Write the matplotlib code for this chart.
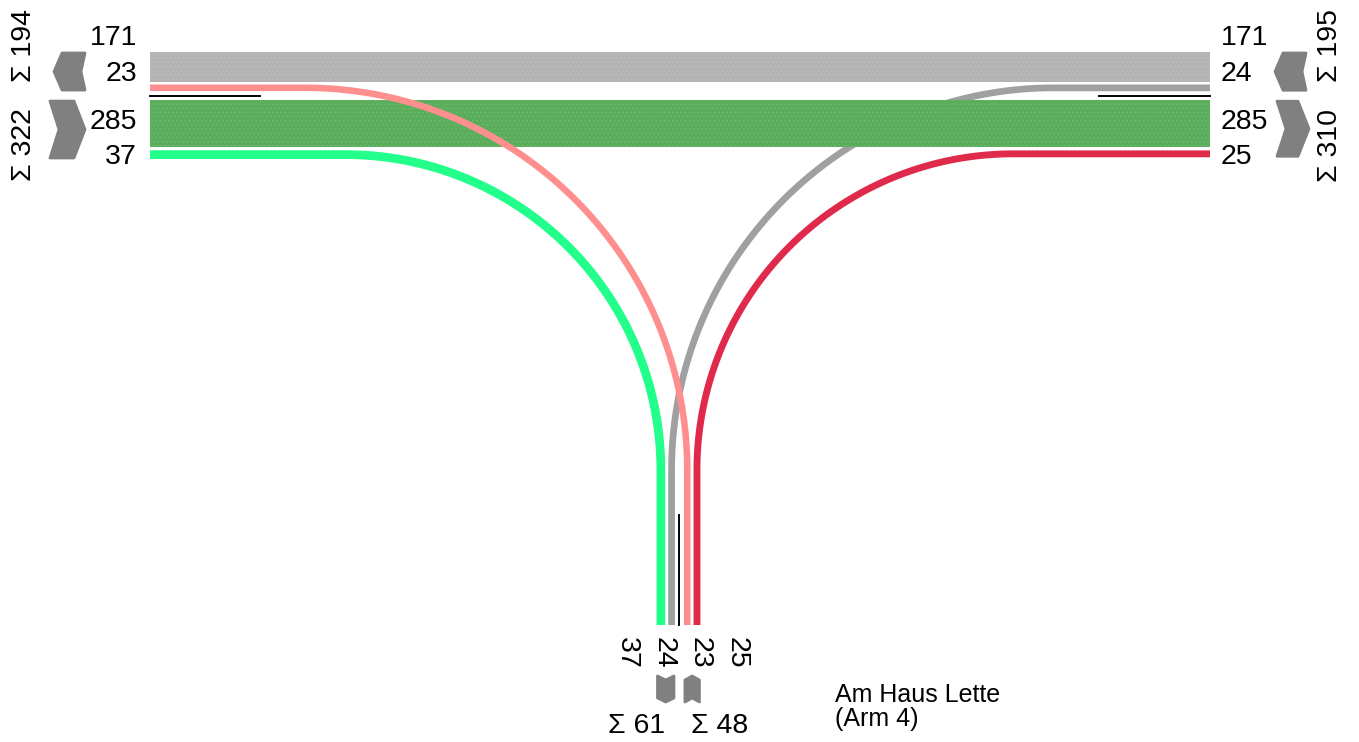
import numpy as np
import matplotlib
matplotlib.use("Agg")
import matplotlib.pyplot as plt
from matplotlib.patches import Rectangle, Polygon

# volumes per lane, read top->bottom (side arms) and left->right (bottom arm)
left_values = [171, 23, 285, 37]
right_values = [171, 24, 285, 25]
bottom_values = [37, 24, 23, 25]
left_sums = [194, 322]
right_sums = [195, 310]
bottom_sums = [61, 48]
arm_name = "Am Haus Lette\n(Arm 4)"

# straight flows (value, colour) and turning flows (value, colour, side, side lane, bottom lane)
straight = [(171, "#b4b4b4"), (285, "#5aad5a")]
turns = [
    (24, "#a0a0a0", "right", 1, 1),
    (23, "#ff8f8f", "left", 1, 2),
    (37, "#22ff8a", "left", 3, 0),
    (25, "#e02a4c", "right", 3, 3),
]

############ LAYOUT (pixels) ############
W, H = 1359, 742
x_left, x_right = 150, 1210
y_top = 52
x_bottom0 = 656.5
y_bend, y_end = 470, 625
gaps = [0, 3, 9, 3]
FONT = ["Liberation Sans", "DejaVu Sans"]


def width(v):
    return 3 + 0.155 * v


def stack(values, start):
    pos, cur = [], start
    for v, g in zip(values, gaps):
        cur += g
        pos.append((cur, cur + width(v)))
        cur += width(v)
    return pos


def chevron(x0, x1, y0, y1, direction, tip, back):
    xm, ym = (x0 + x1) / 2, (y0 + y1) / 2
    if direction == "right":
        pts = [(x0, y0), (x1 - tip, y0), (x1, ym), (x1 - tip, y1), (x0, y1), (x0 + back, ym)]
    elif direction == "left":
        pts = [(x1, y0), (x0 + tip, y0), (x0, ym), (x0 + tip, y1), (x1, y1), (x1 - back, ym)]
    elif direction == "down":
        pts = [(x0, y0), (xm, y0 + back), (x1, y0), (x1, y1 - tip), (xm, y1), (x0, y1 - tip)]
    else:
        pts = [(xm, y0), (x1, y0 + tip), (x1, y1), (xm, y1 - back), (x0, y1), (x0, y0 + tip)]
    return Polygon(pts, closed=True, fc="#808080", ec="#808080", lw=2,
                   joinstyle="round", zorder=6)


lanes = {"left": stack(left_values, y_top), "right": stack(right_values, y_top)}
bottom_lanes = stack(bottom_values, x_bottom0)

fig = plt.figure(figsize=(W / 100, H / 100), dpi=100)
ax = fig.add_axes([0, 0, 1, 1])
ax.set_xlim(0, W)
ax.set_ylim(H, 0)
ax.axis("off")

plt.rcParams["hatch.linewidth"] = 0.6

# straight bands
z = {171: 1, 285: 3}
for (v, c), (y0, y1) in zip(straight, [lanes["left"][0], lanes["left"][2]]):
    ax.add_patch(Rectangle((x_left, y0), x_right - x_left, y1 - y0, fc=c,
                           ec="none", zorder=z[v]))
    ax.add_patch(Rectangle((x_left, y0), x_right - x_left, y1 - y0, fc="none",
                           ec=(1, 1, 1, 0.12), hatch="....", lw=0, zorder=z[v]))

# turning flows: horizontal run, circular bend, vertical run
zt = [2, 4, 5, 5]
for (v, c, side, li, bi), zz in zip(turns, zt):
    yc = sum(lanes[side][li]) / 2
    xb = sum(bottom_lanes[bi]) / 2
    r = y_bend - yc
    t = np.linspace(0, np.pi / 2, 100)
    if side == "left":
        cx = xb - r
        xs = np.concatenate([[x_left], cx + r * np.sin(t), [xb]])
    else:
        cx = xb + r
        xs = np.concatenate([[x_right], cx - r * np.sin(t), [xb]])
    ys = np.concatenate([[yc], y_bend - r * np.cos(t), [y_end]])
    ax.plot(xs, ys, color=c, lw=width(v) * 0.72, solid_capstyle="butt",
            solid_joinstyle="round", zorder=zz)

# lane separators
sep_y = (lanes["left"][1][1] + lanes["left"][2][0]) / 2
ax.plot([x_left, 260], [sep_y, sep_y], color="black", lw=1.4, zorder=7)
ax.plot([1099, x_right], [sep_y, sep_y], color="black", lw=1.4, zorder=7)
sep_x = (bottom_lanes[1][1] + bottom_lanes[2][0]) / 2
ax.plot([sep_x, sep_x], [515, y_end], color="black", lw=1.4, zorder=7)

# direction arrows
L, R = lanes["left"], lanes["right"]
ax.add_patch(chevron(54, 85, L[0][0] + 1, L[1][1] - 1, "left", 8, 4))
ax.add_patch(chevron(50, 85, L[2][0] + 1, L[3][1] - 1, "right", 11, 9))
ax.add_patch(chevron(1275, 1306, R[0][0] + 1, R[1][1] - 1, "left", 8, 4))
ax.add_patch(chevron(1277, 1309, R[2][0] + 1, R[3][1] - 1, "right", 11, 9))
ax.add_patch(chevron(bottom_lanes[0][0] + 1, bottom_lanes[1][1] - 1, 676, 702, "down", 4, 4))
ax.add_patch(chevron(bottom_lanes[2][0] + 1, bottom_lanes[3][1] - 1, 676, 702, "up", 4, 4))

# lane labels
label_y = [38, 74, 122, 157]
for v, y in zip(left_values, label_y):
    ax.text(137, y, str(v), ha="right", va="center", fontsize=20.5, family=FONT)
for v, y in zip(right_values, label_y):
    ax.text(1221, y, str(v), ha="left", va="center", fontsize=20.5, family=FONT)
for i, v in enumerate(bottom_values):
    ax.text(627 + 36.5 * i, 637, str(v), ha="center", va="top", rotation=-90,
            fontsize=20.5, family=FONT)

# sums
for s, y in zip(left_sums, [46, 145]):
    ax.text(24, y, f"Σ {s}", ha="center", va="center", rotation=90,
            fontsize=20.5, family=FONT)
for s, y in zip(right_sums, [46, 146]):
    ax.text(1330, y, f"Σ {s}", ha="center", va="center", rotation=90,
            fontsize=20.5, family=FONT)
for s, x in zip(bottom_sums, [637, 720]):
    ax.text(x, 726, f"Σ {s}", ha="center", va="center", fontsize=20.5, family=FONT)

ax.text(835, 707, arm_name, ha="left", va="center", fontsize=18, family=FONT,
        linespacing=1.05)

fig.savefig("out.png", dpi=100)
plt.close()
